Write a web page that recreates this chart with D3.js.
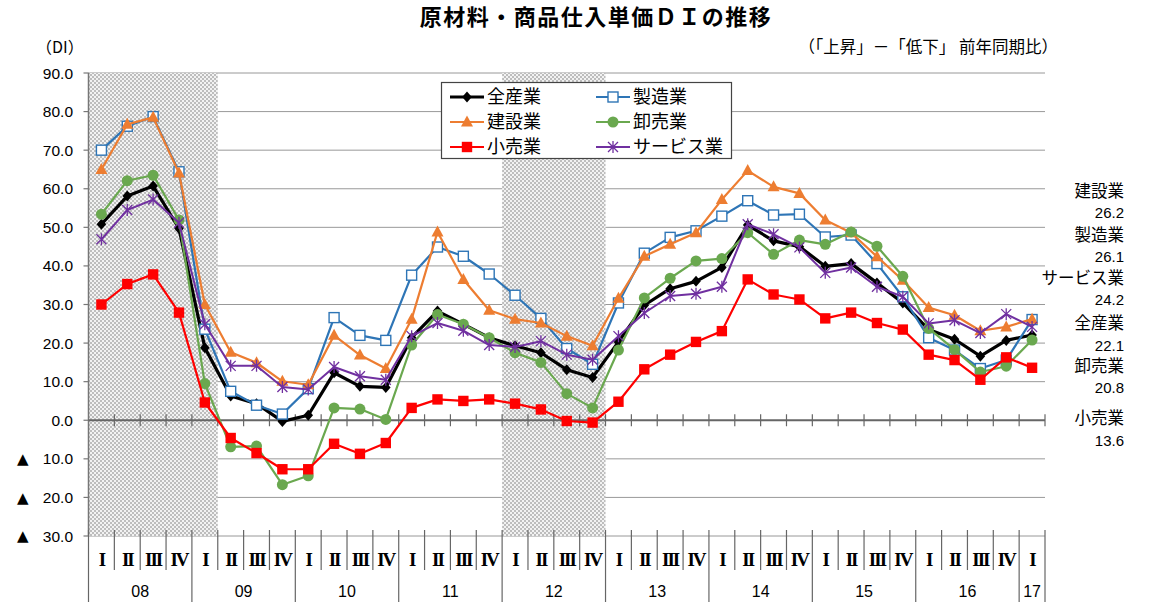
<!DOCTYPE html>
<html><head><meta charset="utf-8">
<script src="https://cdn.jsdelivr.net/npm/d3@7"></script>
<style>body{margin:0;background:#fff} svg{display:block}</style>
</head><body><svg id="c" width="1150" height="605"></svg>
<script>
// ---------- data ----------
const years = ["08","09","10","11","12","13","14","15","16","17"];
const quarterLabels = ["I","II","III","IV"];
const yTicks = [90,80,70,60,50,40,30,20,10,0,-10,-20,-30];
const seriesNames = ["全産業","製造業","建設業","卸売業","小売業","サービス業"];
const allIndustries = [50.8,58.1,60.7,49.7, 18.8,6.3,4.3,-0.3, 1.3,12.3,8.8,8.5, 21.4,28.3,24.9,21.4, 19.3,17.5,13.1,11.1, 20.3,29.8,34.1,36.0, 39.6,50.6,46.5,45.0, 39.9,40.6,35.6,30.4, 23.5,21.0,16.6,20.7, 22.1];
const manufacturing = [70.0,76.2,78.7,64.4, 23.6,7.5,3.9,1.6, 8.2,26.6,22.0,20.7, 37.6,44.9,42.5,37.9, 32.4,26.4,18.6,14.5, 30.4,43.3,47.4,49.1, 52.9,56.9,53.2,53.4, 47.5,48.0,40.6,32.0, 21.4,18.2,13.4,15.6, 26.1];
const construction = [65.0,76.7,78.5,64.1, 30.0,17.6,14.9,10.1, 9.2,22.0,16.9,13.4, 26.2,48.8,36.5,28.5, 26.2,25.2,21.8,19.3, 31.6,42.5,45.6,48.6, 57.2,64.7,60.5,58.8, 51.9,48.6,42.4,36.3, 29.2,27.2,23.2,24.2, 26.2];
const wholesale = [53.4,62.1,63.5,51.9, 9.5,-6.9,-6.7,-16.7, -14.4,3.2,2.9,0.2, 19.5,27.4,24.9,21.4, 17.5,15.0,6.9,3.2, 18.2,31.7,36.8,41.3, 41.9,48.6,43.0,46.7, 45.6,48.8,45.1,37.3, 23.8,18.3,12.5,14.0, 20.8];
const retail = [30.0,35.3,37.8,27.9, 4.6,-4.6,-8.5,-12.7, -12.7,-6.1,-8.7,-5.9, 3.2,5.4,5.0,5.4, 4.3,2.8,-0.2,-0.6, 4.8,13.2,17.0,20.3, 23.1,36.5,32.6,31.3, 26.4,27.9,25.2,23.5, 17.0,15.6,10.5,16.3, 13.6];
const services = [46.9,54.5,57.2,51.2, 24.9,14.1,14.1,8.6, 8.0,13.8,11.4,10.5, 21.8,25.2,23.2,19.5, 19.0,20.5,17.0,15.7, 21.8,27.8,32.2,32.8, 34.6,50.8,48.2,44.8, 38.2,39.6,34.6,32.0, 25.1,25.9,22.6,27.5, 24.2];
// shaded (recession) periods, as quarter index ranges [start, end)
const shadedPeriods = [[0,5],[16,20]];
// order of labels at the right edge
const rightLabelOrder = ["建設業","製造業","サービス業","全産業","卸売業","小売業"];

// ---------- layout ----------
const L = 88.5, R = 1045, T = 73, B = 536;
const nQ = allIndustries.length;
const x = d3.scaleLinear().domain([0, nQ]).range([L, R]);
const y = d3.scaleLinear().domain([-30, 90]).range([B, T]);
const svg = d3.select("#c");

const seriesData = [allIndustries, manufacturing, construction, wholesale, retail, services];
const styles = [
  {color:"#000000", width:3.2, marker:"diamond"},
  {color:"#2E75B6", width:2.2, marker:"osquare"},
  {color:"#ED7D31", width:2.2, marker:"triangle"},
  {color:"#6AA84F", width:2.2, marker:"circle"},
  {color:"#FF0000", width:2.2, marker:"square"},
  {color:"#7030A0", width:2.0, marker:"asterisk"}
];

// pattern
const defs = svg.append("defs");
const pat = defs.append("pattern").attr("id","chk").attr("width",4).attr("height",4).attr("patternUnits","userSpaceOnUse");
pat.append("rect").attr("width",4).attr("height",4).attr("fill","#f2f2f2");
pat.append("rect").attr("width",2).attr("height",2).attr("fill","#bdbdbd");
pat.append("rect").attr("x",2).attr("y",2).attr("width",2).attr("height",2).attr("fill","#bdbdbd");

// gridlines
svg.append("g").selectAll("line").data(yTicks.filter(v => v !== 0)).join("line")
  .attr("x1", L).attr("x2", R).attr("y1", d => y(d)).attr("y2", d => y(d))
  .attr("stroke", "#333").attr("stroke-width", 1).attr("stroke-dasharray", "1,1");

// shading
svg.append("g").selectAll("rect").data(shadedPeriods).join("rect")
  .attr("x", d => x(d[0])).attr("width", d => x(d[1]) - x(d[0]))
  .attr("y", T).attr("height", B - T).attr("fill", "url(#chk)");

// left axis
svg.append("line").attr("x1", L).attr("x2", L).attr("y1", T).attr("y2", B).attr("stroke", "#777").attr("stroke-width", 1.5);
svg.append("g").selectAll("line").data(yTicks).join("line")
  .attr("x1", L - 5).attr("x2", L).attr("y1", d => y(d)).attr("y2", d => y(d))
  .attr("stroke", "#777").attr("stroke-width", 1.2);

// y labels
const yl = svg.append("g").attr("font-family", "Liberation Sans, Arial, sans-serif").attr("font-size", 15.5).attr("fill", "#000");
yl.selectAll("text.v").data(yTicks).join("text").attr("class","v")
  .attr("x", 73).attr("y", d => y(d)).attr("dy", "0.36em").attr("text-anchor", "end")
  .text(d => Math.abs(d).toFixed(1));
yl.selectAll("text.t").data(yTicks.filter(v => v < 0)).join("text").attr("class","t")
  .attr("x", 17).attr("y", d => y(d)).attr("dy", "0.36em").attr("font-size", 15)
  .attr("font-family", "DejaVu Sans, sans-serif").text("▲");

// zero line with ticks
svg.append("line").attr("x1", L).attr("x2", R).attr("y1", y(0)).attr("y2", y(0)).attr("stroke", "#666").attr("stroke-width", 1.8);
svg.append("g").selectAll("line").data(d3.range(1, nQ + 1)).join("line")
  .attr("x1", d => x(d)).attr("x2", d => x(d)).attr("y1", y(0) - 6).attr("y2", y(0) + 6)
  .attr("stroke", "#666").attr("stroke-width", 1.2);

// bottom category axis
svg.append("g").selectAll("line").data(d3.range(0, nQ + 1)).join("line")
  .attr("x1", d => x(d)).attr("x2", d => x(d))
  .attr("y1", B - 6).attr("y2", d => (d % 4 === 0 || d === nQ) ? 602 : 570)
  .attr("stroke", "#666").attr("stroke-width", 1.2);
svg.append("g").attr("font-family", "Liberation Serif, Times New Roman, serif").attr("font-size", 19).attr("font-weight", "bold")
  .selectAll("text").data(d3.range(nQ)).join("text")
  .attr("x", d => x(d + 0.5)).attr("y", 559).attr("dy", "0.35em").attr("text-anchor", "middle")
  .attr("letter-spacing", -2)
  .text(d => quarterLabels[d % 4]);
svg.append("g").attr("font-family", "Liberation Sans, Arial, sans-serif").attr("font-size", 16)
  .selectAll("text").data(years).join("text")
  .attr("x", (d, i) => { const s = i * 4, e = Math.min(i * 4 + 4, nQ); return (x(s) + x(e)) / 2; })
  .attr("y", 591).attr("dy", "0.35em").attr("text-anchor", "middle").text(d => d);

// marker drawing
function drawMarker(g, type, color, cx, cy) {
  if (type === "diamond") {
    g.append("path").attr("d", `M${cx},${cy-5.5}L${cx+4.8},${cy}L${cx},${cy+5.5}L${cx-4.8},${cy}Z`).attr("fill", color);
  } else if (type === "osquare") {
    g.append("rect").attr("x", cx-5).attr("y", cy-5).attr("width", 10).attr("height", 10).attr("fill", "#fff").attr("stroke", color).attr("stroke-width", 1.4);
  } else if (type === "square") {
    g.append("rect").attr("x", cx-5.2).attr("y", cy-5.2).attr("width", 10.4).attr("height", 10.4).attr("fill", color);
  } else if (type === "triangle") {
    g.append("path").attr("d", `M${cx},${cy-6.5}L${cx+6},${cy+4.5}L${cx-6},${cy+4.5}Z`).attr("fill", color);
  } else if (type === "circle") {
    g.append("circle").attr("cx", cx).attr("cy", cy).attr("r", 5.5).attr("fill", color);
  } else if (type === "asterisk") {
    const r = 5;
    g.append("path").attr("d", `M${cx-r},${cy-r}L${cx+r},${cy+r}M${cx-r},${cy+r}L${cx+r},${cy-r}M${cx},${cy-r-1}L${cx},${cy+r+1}`)
      .attr("stroke", color).attr("stroke-width", 1.3).attr("fill", "none");
  }
}

// series
const line = d3.line().x((d, i) => x(i + 0.5)).y(d => y(d));
seriesData.forEach((vals, k) => {
  const st = styles[k];
  const g = svg.append("g");
  g.append("path").datum(vals).attr("d", line).attr("fill", "none").attr("stroke", st.color).attr("stroke-width", st.width).attr("stroke-linejoin", "round");
  vals.forEach((v, i) => drawMarker(g, st.marker, st.color, x(i + 0.5), y(v)));
});

// legend
const lg = svg.append("g");
lg.append("rect").attr("x", 441.5).attr("y", 82.5).attr("width", 290).attr("height", 76).attr("fill", "#fff").attr("stroke", "#444").attr("stroke-width", 1.2);
const legendPos = [[0,0],[1,0],[0,1],[1,1],[0,2],[1,2]];
seriesNames.forEach((name, k) => {
  const [c, r] = legendPos[k];
  const lx = c === 0 ? 450 : 596, ly = 97 + r * 25;
  const st = styles[k];
  lg.append("line").attr("x1", lx).attr("x2", lx + 34).attr("y1", ly).attr("y2", ly).attr("stroke", st.color).attr("stroke-width", st.width);
  drawMarker(lg, st.marker, st.color, lx + 17, ly);
  lg.append("text").attr("x", lx + 37).attr("y", ly).attr("dy", "0.36em")
    .attr("font-family", "Noto Sans CJK JP, sans-serif").attr("font-size", 18).text(name);
});

// titles
svg.append("text").attr("x", 596).attr("y", 17).attr("dy", "0.36em").attr("text-anchor", "middle")
  .attr("font-family", "Noto Sans CJK JP, sans-serif").attr("font-weight", "bold").attr("font-size", 22).attr("letter-spacing", 1.5)
  .text("原材料・商品仕入単価ＤＩの推移");
svg.append("text").attr("x", 36).attr("y", 47).attr("dy", "0.36em")
  .attr("font-family", "Noto Sans CJK JP, sans-serif").attr("font-size", 16).text("（DI）");
svg.append("text").attr("x", 1058).attr("y", 47).attr("dy", "0.36em").attr("text-anchor", "end")
  .attr("font-family", "Noto Sans CJK JP, sans-serif").attr("font-size", 16.5).text("（「上昇」－「低下」 前年同期比）");

// right-side labels (latest values)
const rightY = [[191, 213], [235, 257], [278, 300], [323, 346], [366, 388], [418, 441]];
const rg = svg.append("g");
rightLabelOrder.forEach((name, k) => {
  const idx = seriesNames.indexOf(name);
  const v = seriesData[idx][nQ - 1];
  rg.append("text").attr("x", 1124).attr("y", rightY[k][0]).attr("dy", "0.36em").attr("text-anchor", "end")
    .attr("font-family", "Noto Sans CJK JP, sans-serif").attr("font-size", 16.5).text(name);
  rg.append("text").attr("x", 1124).attr("y", rightY[k][1]).attr("dy", "0.34em").attr("text-anchor", "end")
    .attr("font-family", "Liberation Sans, Arial, sans-serif").attr("font-size", 15).text(v.toFixed(1));
});
</script></body></html>
